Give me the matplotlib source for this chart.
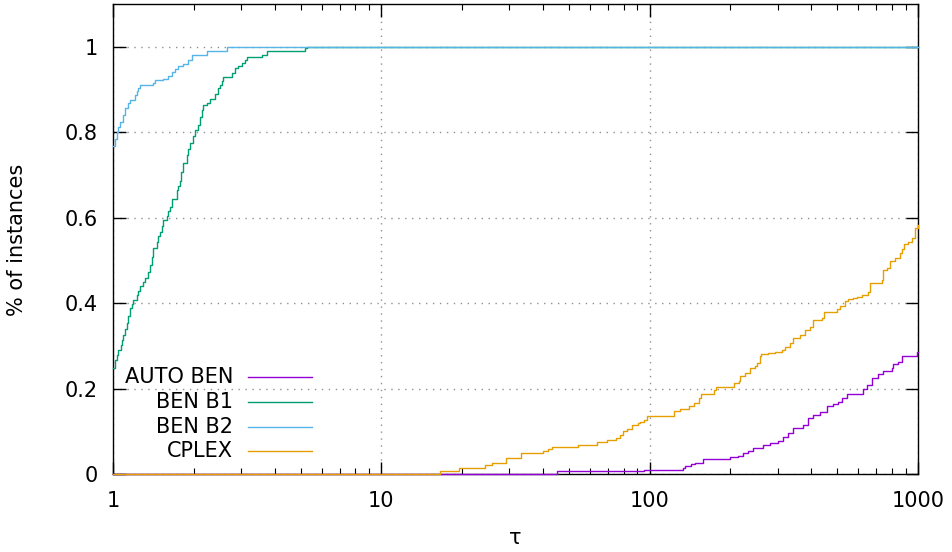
import matplotlib
matplotlib.use("Agg")
import matplotlib.pyplot as plt
from matplotlib.ticker import LogLocator, NullFormatter, NullLocator

# ---- data (performance profile, step functions) ----
series_names = ["AUTO BEN", "BEN B1", "BEN B2", "CPLEX"]

tau_auto = [1, 45, 95, 133, 136, 142, 148, 158, 200, 214, 223, 233, 243, 265, 281, 302, 315, 329, 343,
            374, 390, 407, 431, 457, 484, 505, 520, 542, 625, 644, 672, 711, 743, 798, 809, 845, 870, 995, 1000]
y_auto = [0, 0.006, 0.009, 0.015, 0.019, 0.023, 0.026, 0.034, 0.039, 0.042, 0.048, 0.055, 0.062, 0.068,
          0.072, 0.078, 0.087, 0.096, 0.107, 0.115, 0.131, 0.138, 0.146, 0.158, 0.164, 0.169, 0.177, 0.187,
          0.199, 0.208, 0.224, 0.233, 0.240, 0.247, 0.258, 0.263, 0.276, 0.286, 0.286]

tau_b1 = [1.0, 1.017, 1.032, 1.046, 1.068, 1.080, 1.093, 1.110, 1.125, 1.140, 1.157, 1.174, 1.190, 1.225,
          1.243, 1.260, 1.290, 1.316, 1.345, 1.374, 1.394, 1.413, 1.455, 1.476, 1.497, 1.518, 1.540, 1.585,
          1.608, 1.631, 1.655, 1.727, 1.752, 1.776, 1.800, 1.828, 1.882, 1.910, 1.937, 1.980, 2.020, 2.079,
          2.110, 2.140, 2.171, 2.234, 2.298, 2.401, 2.469, 2.506, 2.540, 2.578, 2.768, 2.850, 2.930, 3.016,
          3.105, 3.148, 3.589, 3.74, 5.19, 5.27, 1000]
y_b1 = [0.2475, 0.267, 0.279, 0.290, 0.302, 0.314, 0.326, 0.340, 0.353, 0.370, 0.388, 0.398, 0.407, 0.419,
        0.429, 0.439, 0.449, 0.458, 0.473, 0.489, 0.509, 0.529, 0.544, 0.556, 0.567, 0.581, 0.595, 0.603,
        0.615, 0.626, 0.643, 0.664, 0.675, 0.685, 0.706, 0.728, 0.747, 0.760, 0.774, 0.790, 0.806, 0.817,
        0.835, 0.852, 0.864, 0.868, 0.878, 0.889, 0.903, 0.911, 0.920, 0.928, 0.938, 0.950, 0.954, 0.962,
        0.970, 0.976, 0.981, 0.991, 0.997, 1.0, 1.0]

tau_b2 = [1.0, 1.015, 1.032, 1.047, 1.062, 1.085, 1.109, 1.135, 1.157, 1.208, 1.225, 1.243, 1.261, 1.413,
          1.434, 1.540, 1.607, 1.655, 1.70, 1.752, 1.828, 1.908, 1.965, 2.235, 2.653, 1000]
y_b2 = [0.767, 0.783, 0.800, 0.812, 0.825, 0.840, 0.856, 0.868, 0.876, 0.888, 0.897, 0.904, 0.911, 0.915,
        0.923, 0.925, 0.932, 0.942, 0.948, 0.954, 0.960, 0.970, 0.981, 0.991, 1.0, 1.0]

tau_cplex = [1, 16.5, 19.5, 24.3, 25.8, 29.1, 33.1, 40.1, 41.9, 43.1, 53.9, 63.8, 69.5, 74.9, 77.5, 79.8,
             82.1, 85.7, 90.7, 92.0, 95.5, 97.5, 123.0, 130.0, 140.0, 146.5, 153.0, 156.0, 174.0, 177.0,
             206.0, 216.0, 218.0, 227.0, 237.0, 247.0, 252.0, 258.0, 261.0, 277.0, 293.0, 310.0, 319.0,
             333.0, 343.0, 363.0, 379.0, 396.0, 407.0, 438.0, 446.0, 500.0, 512.0, 535.0, 550.0, 574.0,
             594.0, 617.0, 653.0, 662.0, 702.0, 732.0, 743.0, 764.0, 786.0, 821.0, 857.0, 870.0, 887.0,
             920.0, 947.0, 975.0, 1000]
y_cplex = [0, 0.006, 0.015, 0.020, 0.025, 0.038, 0.048, 0.054, 0.059, 0.063, 0.068, 0.076, 0.080, 0.084,
           0.091, 0.100, 0.105, 0.115, 0.119, 0.122, 0.126, 0.136, 0.148, 0.152, 0.158, 0.166, 0.177, 0.187,
           0.197, 0.204, 0.214, 0.218, 0.229, 0.237, 0.247, 0.253, 0.259, 0.276, 0.281, 0.284, 0.286, 0.290,
           0.298, 0.306, 0.318, 0.325, 0.337, 0.345, 0.361, 0.365, 0.380, 0.386, 0.393, 0.404, 0.409, 0.413,
           0.415, 0.419, 0.425, 0.447, 0.448, 0.454, 0.478, 0.483, 0.499, 0.505, 0.517, 0.526, 0.539, 0.544,
           0.552, 0.575, 0.583]

x_ticks = [1, 10, 100, 1000]
x_tick_labels = ["1", "10", "100", "1000"]
y_ticks = [0, 0.2, 0.4, 0.6, 0.8, 1.0]
y_tick_labels = ["0", "0.2", "0.4", "0.6", "0.8", "1"]

colors = ["#9400D3", "#009E73", "#56B4E9", "#E69F00"]

# ---- figure ----
plt.rcParams["font.family"] = ["DejaVu Sans"]
FS = 15
fig = plt.figure(figsize=(9.53, 5.52), dpi=100)
ax = fig.add_axes([113 / 953, 78 / 552, 805 / 953, 470 / 552])

data = [(tau_auto, y_auto), (tau_b1, y_b1), (tau_b2, y_b2), (tau_cplex, y_cplex)]
for (t, y), c in zip(data, colors):
    ax.plot(t, y, drawstyle="steps-post", color=c, lw=1.0, zorder=3, clip_on=False)

ax.set_xscale("log")
ax.set_xlim(1, 1000)
ax.set_ylim(0, 1.1)
ax.set_xticks(x_ticks, labels=x_tick_labels)
ax.xaxis.set_minor_locator(LogLocator(base=10, subs=range(2, 10)))
ax.xaxis.set_minor_formatter(NullFormatter())
ax.set_yticks(y_ticks, labels=y_tick_labels)
ax.yaxis.set_minor_locator(NullLocator())

ax.tick_params(which="both", direction="in", top=True, right=True, color="black", labelsize=FS)
ax.tick_params(which="major", length=9, width=1)
ax.tick_params(which="minor", length=4.5, width=0.8)
ax.tick_params(axis="x", which="major", pad=12.5)
ax.tick_params(axis="y", which="major", pad=11)

ax.grid(True, which="major", linestyle=(0, (1, 4)), color="#909090", lw=1.0, zorder=1)
for s in ax.spines.values():
    s.set_linewidth(1.0)
    s.set_color("black")
    s.set_zorder(2.5)

fig.text(17 / 953, 1 - 240 / 552, "% of instances", rotation=90, ha="center", va="center", fontsize=FS)
fig.text(515 / 953, 1 - 538 / 552, "τ", ha="center", va="center", fontsize=FS)

# gnuplot-style key (text right aligned, sample on the right)
key_y = [0.207, 0.1538, 0.100, 0.0489]
for name, c, yk in zip(series_names, colors, key_y):
    ax.text(0.1494, yk, name, transform=ax.transAxes, ha="right", va="center", fontsize=FS, zorder=5)
    ax.plot([0.168, 0.2476], [yk, yk], transform=ax.transAxes, color=c, lw=1.0, zorder=5)

fig.savefig("out.png", dpi=100)
